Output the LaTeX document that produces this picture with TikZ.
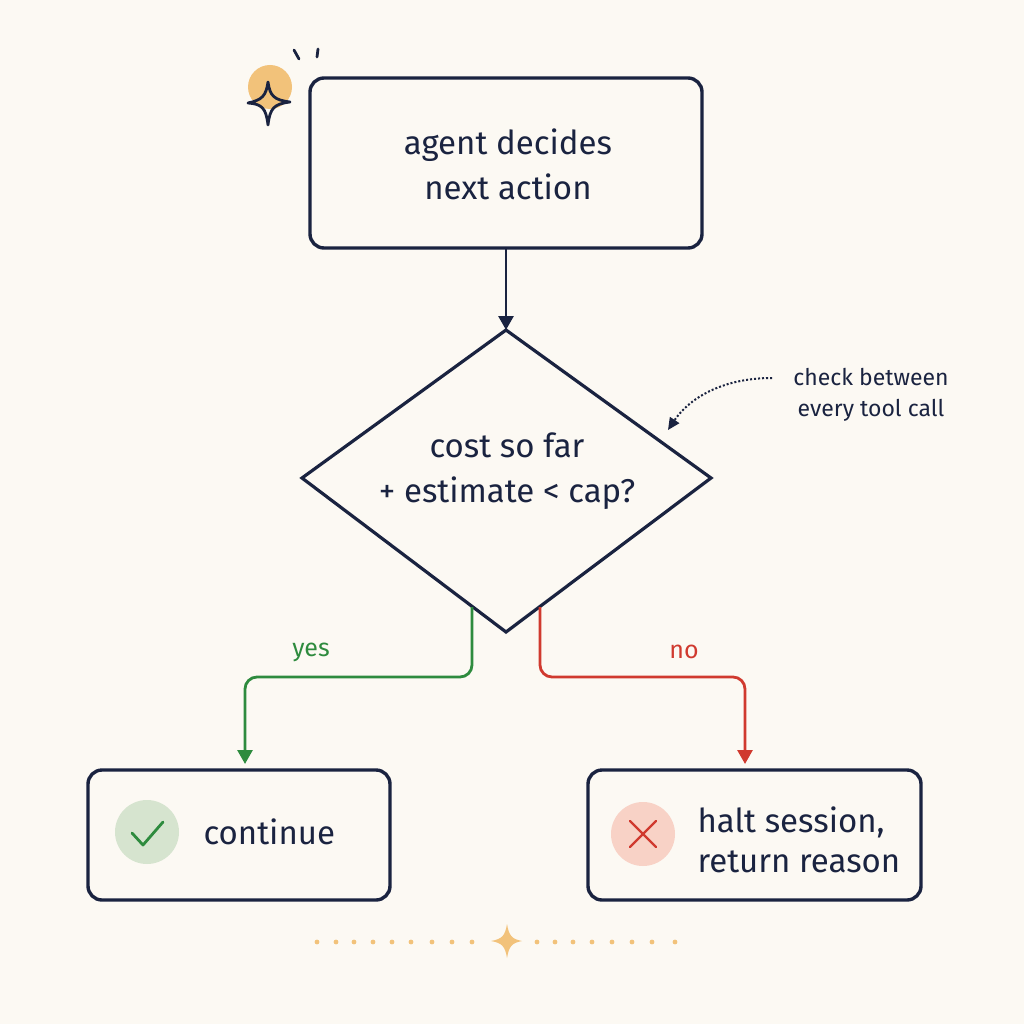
\documentclass[tikz,border=0pt]{standalone}
\usepackage{fontspec}
\setmainfont{Fira Sans}
\usetikzlibrary{arrows.meta}
\definecolor{bg}{HTML}{FCF9F3}
\definecolor{ink}{HTML}{1A2340}
\definecolor{grn}{HTML}{2E8B3E}
\definecolor{rd}{HTML}{D03A2F}
\definecolor{org}{HTML}{F2C27A}
\definecolor{lgrn}{HTML}{D6E4CF}
\definecolor{lrd}{HTML}{F8D2C6}
\begin{document}
\begin{tikzpicture}[x=1pt,y=-1pt,
  box/.style={draw=ink,line width=3.4pt,rounded corners=14pt},
  big/.style={font=\fontsize{33}{45}\selectfont,text=ink,align=center},
  conn/.style={line width=2.8pt,rounded corners=12pt,-{Triangle[length=14pt,width=15pt]}}]
\fill[bg] (0,0) rectangle (1024,1024);
\useasboundingbox (0,0) rectangle (1024,1024);
% top box
\draw[box] (310,78) rectangle (702,248);
\node[big] (top) at (508,164) {agent decides\\next action};
\coordinate (tb) at (506,248);
% diamond
\draw[ink,line width=3.2pt,line join=miter] (506,330) -- (711,478) -- (506,632) -- (302,478) -- cycle;
\coordinate (dt) at (506,330);
\node[big] (dec) at (507,471) {cost so far\\+ estimate < cap?};
\draw[conn,ink] (tb) -- (dt);
% branches
\coordinate (ys) at (472,607);
\coordinate (ns) at (540,607);
\coordinate (ye) at (245,764);
\coordinate (ne) at (745,764);
\draw[conn,grn] (ys) -- (472,677) -- (245,677) -- (ye);
\draw[conn,rd] (ns) -- (540,677) -- (745,677) -- (ne);
\node[text=grn,font=\fontsize{25}{26}\selectfont] (yes) at (311,652) {yes};
\node[text=rd,font=\fontsize{25}{26}\selectfont] (no) at (684,652) {no};
% bottom boxes
\draw[box] (88,770) rectangle (390,900);
\draw[box] (588,770) rectangle (921,900);
\fill[lgrn] (147,832) circle (32);
\draw[grn,line width=2.8pt,line cap=round,line join=round] (132,833) -- (143,845) -- (163,822);
\node[big,anchor=west] (cont) at (200,832) {continue};
\fill[lrd] (643,834) circle (32);
\draw[rd,line width=2.4pt,line cap=round] (630,821) -- (656,847) (656,821) -- (630,847);
\node[big,anchor=west,align=left,font=\fontsize{33}{40}\selectfont] (halt) at (694,840) {halt session,\\return reason};
% annotation
\node[text=ink,font=\fontsize{23}{31}\selectfont,align=center] (note) at (871,395) {check between\\every tool call};
\coordinate (ns1) at (772,378);
\coordinate (ne1) at (668,430);
\draw[ink,line width=2pt,dotted,-{Triangle[length=12pt,width=11pt]}] (ns1) .. controls (720,378) and (688,400) .. (ne1);
% sparkles
\fill[org] (270,87) circle (22);
\draw[ink,line width=2.8pt,line join=round] (268,82) .. controls (270,96) and (274,100) .. (290,102) .. controls (274,104) and (270,108) .. (268,125) .. controls (266,108) and (262,104) .. (248,103) .. controls (262,100) and (266,96) .. cycle;
\draw[ink,line width=2.8pt,line cap=round] (294,50) -- (299,59) (318,49) -- (317,57);
\foreach \x in {317,336,354,373,392,411,432,452,472,537,555,573,592,612,632,652,675}
  \fill[org] (\x,942) circle (2.4);
\fill[org] (507,924) .. controls (509,936) and (512,939) .. (522,941) .. controls (512,943) and (509,946) .. (507,958) .. controls (505,946) and (502,943) .. (491,941) .. controls (502,939) and (505,936) .. cycle;
\end{tikzpicture}
\end{document}
